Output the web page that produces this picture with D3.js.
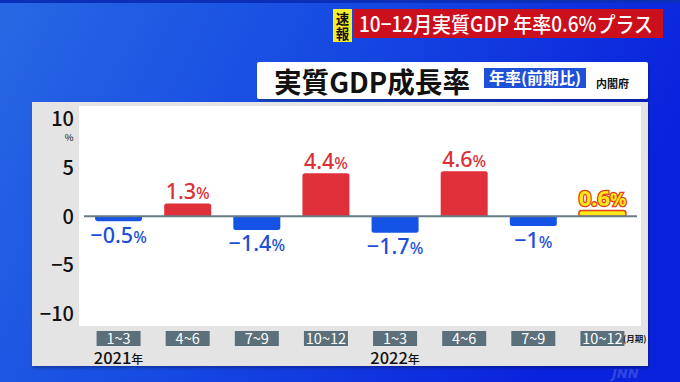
<!DOCTYPE html>
<html><head><meta charset="utf-8">
<script src="https://cdn.jsdelivr.net/npm/d3@7"></script>
<style>
html,body{margin:0;padding:0;background:#1448e0;}
svg{display:block;font-family:"Noto Sans CJK JP","Noto Sans",sans-serif;}
</style></head>
<body>
<svg id="chart" width="680" height="382"></svg>
<script>
// ---- data ----
const quarters = ["1~3","4~6","7~9","10~12","1~3","4~6","7~9","10~12"];
const years = ["2021年","","","","2022年","","",""];
const values = [-0.5, 1.3, -1.4, 4.4, -1.7, 4.6, -1, 0.6];
const valueLabels = ["−0.5","1.3","−1.4","4.4","−1.7","4.6","−1","0.6"];
const yTicks = [-10, -5, 0, 5, 10];
const yTickLabels = ["−10","−5","0","5","10"];
const headline = "10−12月実質GDP 年率0.6%プラス";
const title = "実質GDP成長率";
const subtitle = "年率(前期比)";
const source = "内閣府";

const svg = d3.select("#chart");
const W = 680, H = 382;
const defs = svg.append("defs");

// background gradient
const bg = defs.append("linearGradient").attr("id","bg").attr("x1","0").attr("y1","0").attr("x2","1").attr("y2","0.3");
bg.append("stop").attr("offset","0").attr("stop-color","#2868e4");
bg.append("stop").attr("offset","0.45").attr("stop-color","#174ce2");
bg.append("stop").attr("offset","1").attr("stop-color","#0a22dc");
svg.append("rect").attr("width",W).attr("height",H).attr("fill","url(#bg)");
svg.append("rect").attr("width",W).attr("height",3).attr("fill","#0b2fb8");

const shadow = defs.append("filter").attr("id","sh").attr("x","-5%").attr("y","-5%").attr("width","110%").attr("height","115%");
shadow.append("feDropShadow").attr("dx",1).attr("dy",2).attr("stdDeviation",1.5).attr("flood-color","#000").attr("flood-opacity",0.3);

// headline banner
svg.append("rect").attr("x",333).attr("y",9).attr("width",19).attr("height",33).attr("fill","#f6f02a");
svg.append("text").attr("x",342.5).attr("y",23.5).attr("text-anchor","middle").attr("font-size",13.5).attr("font-weight",700).attr("fill","#111").text("速");
svg.append("text").attr("x",342.5).attr("y",39).attr("text-anchor","middle").attr("font-size",13.5).attr("font-weight",700).attr("fill","#111").text("報");
svg.append("rect").attr("x",354).attr("y",9).attr("width",309).attr("height",29).attr("fill","#cc0f1c");
svg.append("text").attr("x",359).attr("y",31.5).attr("font-size",21).attr("font-weight",500).attr("fill","#fff")
  .attr("textLength",294).attr("lengthAdjust","spacingAndGlyphs").text(headline);

// title box
svg.append("rect").attr("x",257).attr("y",62).attr("width",391).attr("height",37).attr("rx",2).attr("fill","#fff").attr("filter","url(#sh)");
svg.append("text").attr("x",274).attr("y",93).attr("font-size",28).attr("font-weight",700).attr("fill","#111")
  .attr("textLength",196).attr("lengthAdjust","spacingAndGlyphs").text(title);
svg.append("rect").attr("x",484).attr("y",68).attr("width",102).attr("height",20).attr("fill","#1f50d8");
svg.append("text").attr("x",535).attr("y",84).attr("text-anchor","middle").attr("font-size",15.5).attr("font-weight",700).attr("fill","#fff")
  .attr("textLength",92).attr("lengthAdjust","spacingAndGlyphs").text(subtitle);
svg.append("text").attr("x",596).attr("y",88).attr("font-size",11).attr("font-weight",700).attr("fill","#111").text(source);

// gray panel and white plot
svg.append("rect").attr("x",32).attr("y",102).attr("width",616).attr("height",264).attr("fill","#e4e4e4").attr("filter","url(#sh)");
svg.append("rect").attr("x",79).attr("y",106).attr("width",562).attr("height",220).attr("fill","#fff");

// scales
const x = d3.scaleBand().domain(d3.range(values.length)).range([84,637]).paddingInner(0.32).paddingOuter(0.16);
const y = d3.scaleLinear().domain([-10,10]).range([314,118.5]);

// y axis labels
const yAxis = d3.axisLeft(y).tickValues(yTicks).tickSize(0).tickPadding(0).tickFormat((d,i)=>yTickLabels[i]);
const ya = svg.append("g").attr("transform","translate(74,0)").call(yAxis);
ya.select(".domain").remove();
ya.selectAll("text").attr("font-size",20).attr("font-weight",500).attr("fill","#111")
  .attr("font-family",'"Noto Sans CJK JP","Noto Sans",sans-serif').attr("dy","0.34em");
svg.append("text").attr("x",69).attr("y",141).attr("text-anchor","middle").attr("font-size",9.5).attr("fill","#111").text("%");

// bars
const last = values.length - 1;
const barG = svg.append("g");
values.forEach((v,i)=>{
  const x0 = x(i), bw = x.bandwidth();
  const y0 = y(0), y1 = y(v);
  const top = Math.min(y0,y1), h = Math.abs(y1-y0);
  let fill = v >= 0 ? "#e0303a" : "#1553e6";
  if (i === last) fill = "#ffe81a";
  const r = Math.min(2.5, h/2);
  let d;
  if (v >= 0) {
    d = `M${x0},${y0} V${top+r} Q${x0},${top} ${x0+r},${top} H${x0+bw-r} Q${x0+bw},${top} ${x0+bw},${top+r} V${y0} Z`;
  } else {
    const b = top + h;
    d = `M${x0},${y0} V${b-r} Q${x0},${b} ${x0+r},${b} H${x0+bw-r} Q${x0+bw},${b} ${x0+bw},${b-r} V${y0} Z`;
  }
  const p = barG.append("path").attr("d",d).attr("fill",fill);
  if (i === last) p.attr("stroke","#e0401c").attr("stroke-width",1.5);
});

// zero line
svg.append("line").attr("x1",84).attr("x2",637).attr("y1",y(0)).attr("y2",y(0)).attr("stroke","#687c86").attr("stroke-width",2);

// value labels
values.forEach((v,i)=>{
  const cx = x(i) + x.bandwidth()/2;
  const isLast = i === last;
  const ty = v >= 0 ? y(v) - 4.5 : y(v) + 21.5;
  const t = svg.append("text").attr("x",cx).attr("y",ty).attr("text-anchor","middle")
    .attr("font-family",'"Noto Sans","Noto Sans CJK JP",sans-serif');
  if (isLast) {
    t.attr("fill","#ffe81a").attr("stroke","#e0401c").attr("stroke-width",2.6).attr("paint-order","stroke")
     .attr("font-weight",700);
    t.append("tspan").attr("font-size",22).text(valueLabels[i]);
    t.append("tspan").attr("font-size",18).text("%");
  } else {
    t.attr("fill", v >= 0 ? "#da3038" : "#1c4fd6").attr("font-weight",500);
    t.append("tspan").attr("font-size",21.5).text(valueLabels[i]);
    t.append("tspan").attr("font-size",16).text("%");
  }
});

// category boxes
const xAxisG = svg.append("g");
quarters.forEach((q,i)=>{
  const cx = x(i) + x.bandwidth()/2;
  xAxisG.append("rect").attr("x",cx-22).attr("y",331).attr("width",44).attr("height",15).attr("fill","#5b707a");
  xAxisG.append("text").attr("x",cx).attr("y",343.5).attr("text-anchor","middle").attr("font-size",14.5)
    .attr("fill","#fff").text(q);
  if (years[i]) {
    const yt = xAxisG.append("text").attr("x",cx).attr("y",364).attr("text-anchor","middle").attr("fill","#111").attr("font-weight",500);
    yt.append("tspan").attr("font-size",16.5).text(years[i].slice(0,-1));
    yt.append("tspan").attr("font-size",12).text(years[i].slice(-1));
  }
});
svg.append("text").attr("x",623).attr("y",342).attr("font-size",8.5).attr("font-weight",700).attr("fill","#222").text("(月期)");

// watermark
svg.append("text").attr("x",612).attr("y",378).attr("font-size",13).attr("font-weight",900).attr("font-style","italic")
  .attr("fill","#ffffff").attr("fill-opacity",0.18).attr("font-family","DejaVu Sans").text("JNN");
</script>
</body></html>
